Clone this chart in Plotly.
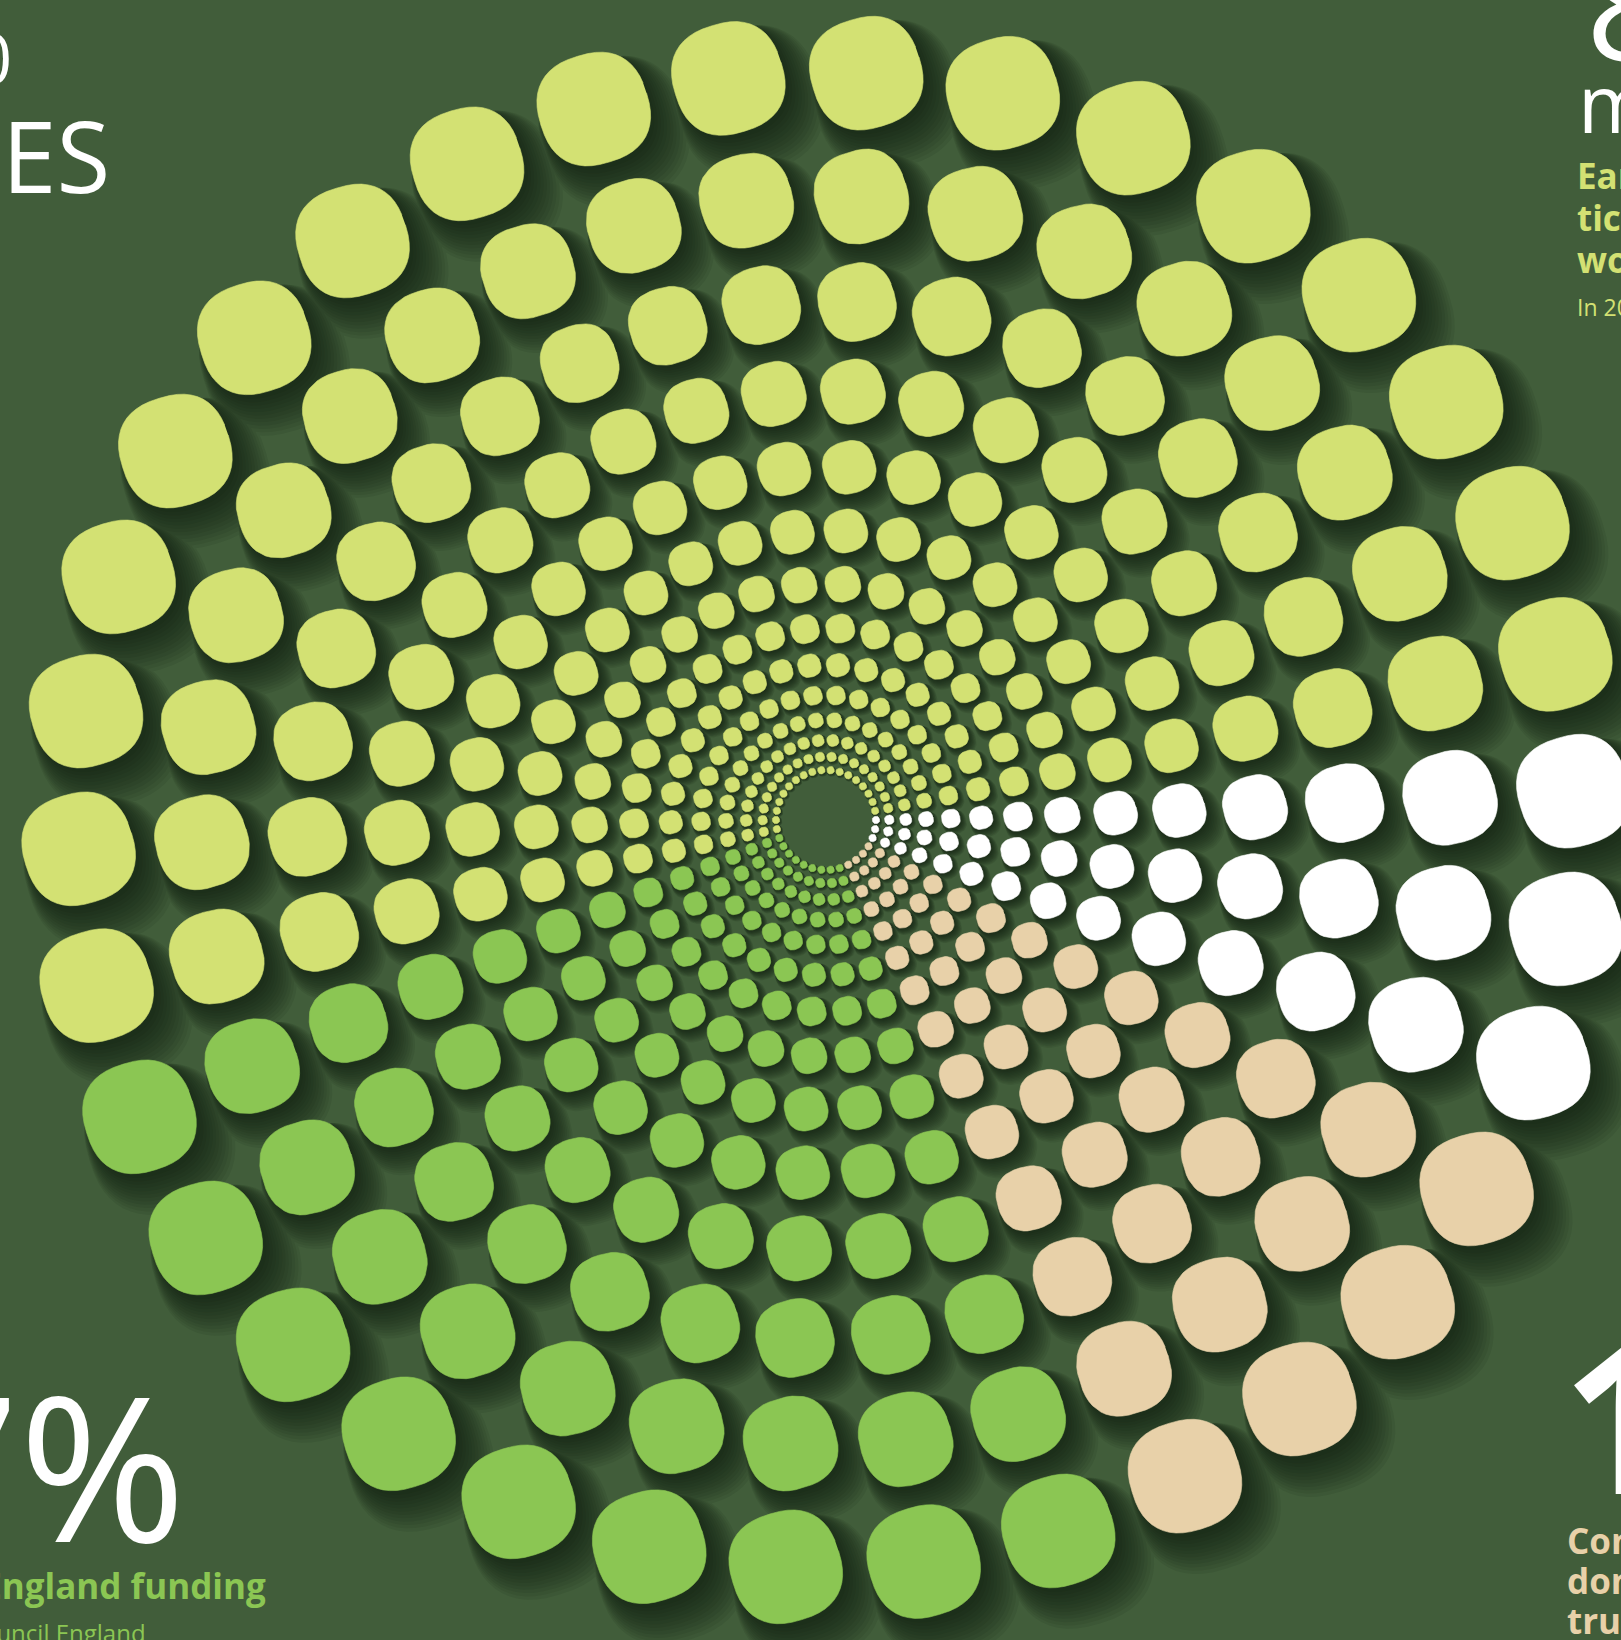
import numpy as np
import plotly.graph_objects as go

# ---------------- data ----------------
categories = ["Earned income", "Arts Council England funding", "Contributed income", "Other income"]
dots_per_ring = [18, 9, 4, 3]          # dots of each colour in every ring (34 spokes)
cat_colors = ["#d3e173", "#8bc653", "#e8d1a9", "#ffffff"]

# ---------------- layout constants ----------------
BG = "#415d3a"
W, H = 1621, 1640
CX, CY = 826, 820
N_RINGS = 14
R0 = 50.0
TWIST = 0.17          # degrees of rotation per ring
START = 0.0           # angle of spoke 0 (degrees)
SIZE_FRAC = 0.152     # bounding width of a dot relative to its ring radius
ROT = np.deg2rad(17)  # tilt of rounded squares
N_SE = 2.45           # superellipse exponent

n_spokes = sum(dots_per_ring)
step = 360.0 / n_spokes
ring_r = [R0 * np.exp(0.238 * k - 0.0023 * k * k) for k in range(N_RINGS)]

# unit rounded square (superellipse), tilted
tt = np.linspace(0, 2 * np.pi, 48, endpoint=False)
ux = np.sign(np.cos(tt)) * np.abs(np.cos(tt)) ** (2 / N_SE)
uy = np.sign(np.sin(tt)) * np.abs(np.sin(tt)) ** (2 / N_SE)
px = ux * np.cos(ROT) + uy * np.sin(ROT)
py = -ux * np.sin(ROT) + uy * np.cos(ROT)
half_ext = max(px.max(), py.max())
px, py = px / half_ext, py / half_ext   # bounding half-width = 1

# category of each spoke (counter-clockwise starting at spoke 1)
spoke_cat = []
for ci, c in enumerate(dots_per_ring):
    spoke_cat += [ci] * c

dots = []  # (x, y, halfwidth, category)
for k, r in enumerate(ring_r):
    hw = SIZE_FRAC * r / 2
    for s in range(n_spokes):
        ang = np.deg2rad(START + (s + 1) * step + TWIST * k)
        x = CX + r * np.cos(ang)
        y = CY - r * np.sin(ang)
        dots.append((x, y, hw, spoke_cat[s]))


def polys(items, scale=1.0, off=0.0):
    xs, ys = [], []
    for (x, y, hw, _c) in items:
        s = hw * scale
        d = 2 * hw * off
        xs += list(np.round(x + d + px * s, 1)) + [None]
        ys += list(np.round(y + d * 1.1 + py * s, 1)) + [None]
    return xs, ys


fig = go.Figure()

# soft drop shadows (stacked layers)
N_SH = 12
for i in range(N_SH):
    xs, ys = polys(dots, scale=1 + 0.03 * i, off=0.035 + 0.013 * i)
    fig.add_trace(go.Scatter(x=xs, y=ys, mode="lines", fill="toself",
                             fillcolor="#0b1409", line=dict(width=0),
                             opacity=0.08, hoverinfo="skip", showlegend=False))

for ci, name in enumerate(categories):
    items = [d for d in dots if d[3] == ci]
    xs, ys = polys(items)
    fig.add_trace(go.Scatter(x=xs, y=ys, mode="lines", fill="toself",
                             fillcolor=cat_colors[ci], line=dict(width=0.6, color=cat_colors[ci]),
                             name=name, hoverinfo="name", showlegend=False))

# ---------------- text ----------------
FONT = "Open Sans"


def ann(text, x, baseline, size, color, bold=False, anchor="left"):
    yc = baseline - 0.36 * size
    fig.add_annotation(text=("<b>%s</b>" % text) if bold else text,
                       x=x / W, y=1 - yc / H, xref="paper", yref="paper",
                       xanchor=anchor, yanchor="middle", showarrow=False,
                       font=dict(family=FONT, size=size, color=color))


# big white figures (dotted in the original)
ann("1,000", 14, 82, 70, "#ffffff", anchor="right")
ann("VENUES", 112, 190, 98, "#ffffff", anchor="right")
ann("27%", 188, 1536, 202, "#ffffff", anchor="right")
ann("8", 1584, 57, 150, "#ffffff")
ann("mil", 1576, 130, 80, "#ffffff")
ann("12%", 1560, 1488, 205, "#ffffff", bold=True)

# top-right label (earned income)
ann("Earned income from", 1575, 188, 35, cat_colors[0], bold=True)
ann("ticket sales and", 1575, 230, 35, cat_colors[0], bold=True)
ann("workshops", 1575, 272, 35, cat_colors[0], bold=True)
ann("In 2012/13", 1575, 315, 23, cat_colors[0])

# bottom-left label
ann("Arts Council England funding", 268, 1598, 35, cat_colors[1], bold=True, anchor="right")
ann("Source: Arts Council England", 148, 1641, 24, cat_colors[1], anchor="right")

# bottom-right label
ann("Contributed income", 1565, 1553, 35, cat_colors[2], bold=True)
ann("donations, sponsorship,", 1565, 1593, 35, cat_colors[2], bold=True)
ann("trusts and foundations", 1565, 1633, 35, cat_colors[2], bold=True)

fig.update_layout(
    width=W, height=H, autosize=False,
    margin=dict(l=0, r=0, t=0, b=0),
    paper_bgcolor=BG, plot_bgcolor=BG,
    xaxis=dict(range=[0, W], visible=False, fixedrange=True),
    yaxis=dict(range=[H, 0], visible=False, fixedrange=True),
    showlegend=False,
)

fig.write_html("out.html", config={"displayModeBar": False},
               post_script="document.body.style.margin='0';document.body.style.overflow='hidden';")
